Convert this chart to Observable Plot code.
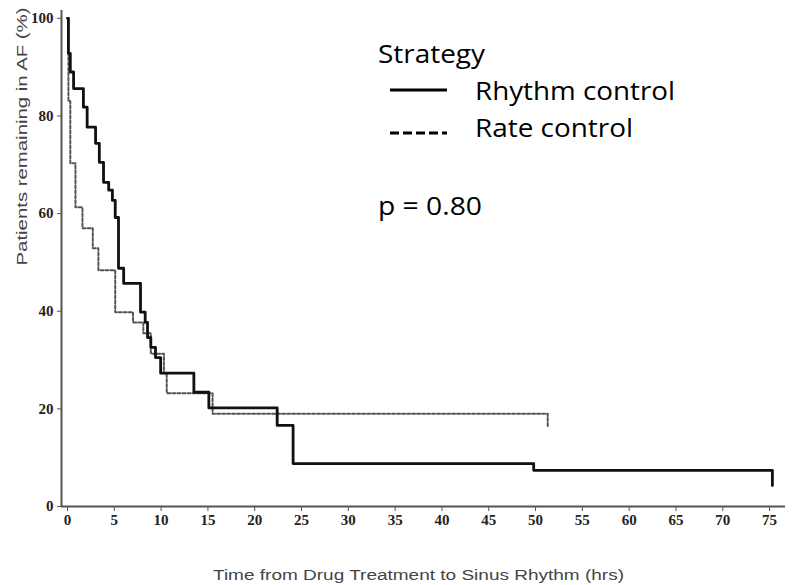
<!DOCTYPE html>
<html><head><meta charset="utf-8">
<script src="https://cdn.jsdelivr.net/npm/d3@7"></script>
<script src="https://cdn.jsdelivr.net/npm/@observablehq/plot@0.6"></script>
<style>
body{margin:0;background:#fff;}
#wrap{width:798px;height:585px;}
</style></head><body><div id="wrap"></div>
<script>
// ---- data ----
const strategies = ["Rhythm control", "Rate control"];
const rhythmTime = [0, 0.1, 0.3, 0.65, 1.7, 2.1, 3.0, 3.4, 3.85, 4.4, 4.8, 5.1, 5.45, 6.0, 7.8, 8.3, 8.55, 8.9, 9.4, 9.95, 13.5, 15.1, 22.4, 24.1, 49.8, 75.3];
const rhythmPct  = [100, 92.8, 89, 85.6, 81.8, 77.7, 74.4, 70.5, 66.4, 64.8, 62.7, 59.2, 48.8, 45.7, 39.8, 37.7, 34.6, 32.6, 30.5, 27.3, 23.4, 20.2, 16.6, 8.8, 7.4, 4.3];
const rateTime = [0, 0.1, 0.3, 0.85, 1.6, 2.7, 3.3, 5.1, 7.0, 8.1, 8.9, 10.3, 10.6, 15.5, 51.3];
const ratePct  = [100, 83, 70.3, 61.3, 57, 52.9, 48.4, 39.8, 37.7, 35.5, 31.3, 27.3, 23.2, 19.0, 16.2];
const xTicks = [0, 5, 10, 15, 20, 25, 30, 35, 40, 45, 50, 55, 60, 65, 70, 75];
const yTicks = [0, 20, 40, 60, 80, 100];
const xTitle = "Time from Drug Treatment to Sinus Rhythm (hrs)";
const yTitle = "Patients remaining in AF (%)";
const legendTitle = "Strategy";
const pText = "p = 0.80";

const rhythm = rhythmTime.map((t, i) => ({strategy: strategies[0], t, pct: rhythmPct[i]}));
const rate = rateTime.map((t, i) => ({strategy: strategies[1], t, pct: ratePct[i]}));

const xMin = -0.64, xMax = 76.7;
const tickFont = {fontFamily: "Liberation Serif", fontWeight: "bold", fontSize: 15, fill: "#222"};

const chart = Plot.plot({
  width: 798, height: 585,
  marginLeft: 61, marginRight: 13, marginTop: 10, marginBottom: 79,
  x: {domain: [xMin, xMax]},
  y: {domain: [0, 101.6]},
  style: {background: "#fff"},
  marks: [
    Plot.axisY({ticks: yTicks, tickSize: 4, tickPadding: 4, stroke: "#555", label: null, ...tickFont}),
    Plot.axisX({ticks: xTicks, tickSize: 5, tickPadding: 3, stroke: "#555", label: null, ...tickFont}),
    Plot.ruleX([xMin], {stroke: "#555", strokeWidth: 2}),
    Plot.ruleY([0], {stroke: "#555", strokeWidth: 2}),
    Plot.line(rate, {x: "t", y: "pct", curve: "step-after", stroke: "#555", strokeWidth: 2, strokeDasharray: "3,2"}),
    Plot.line(rhythm, {x: "t", y: "pct", curve: "step-after", stroke: "#111", strokeWidth: 2.8}),
    Plot.text([xTitle], {frameAnchor: "bottom", dy: 73, dx: -5, fontFamily: "Liberation Sans", fontSize: 14, fill: "#444"}),
    Plot.text([yTitle], {frameAnchor: "left", dx: -39, dy: 7, rotate: -90, fontFamily: "Liberation Sans", fontSize: 14, fill: "#444"})
  ]
});
document.getElementById("wrap").appendChild(chart);

const svg = d3.select(chart);
// tick label styling: bold serif like the scanned figure
const tickStrings = new Set([...xTicks, ...yTicks].map(String));
svg.selectAll("text").filter(function(){ return tickStrings.has(this.textContent.trim()); })
  .style("font-family", "'Liberation Serif', serif").style("font-weight", "bold").style("font-size", "15px").style("fill", "#222");

// legend and p-value as real SVG text
const g = svg.append("g").attr("font-family", "Open Sans").attr("font-size", 25).attr("fill", "#000").attr("text-anchor", "start");
g.append("text").attr("x", 378).attr("y", 63).attr("textLength", 107).attr("lengthAdjust", "spacingAndGlyphs").text(legendTitle);
g.append("text").attr("x", 475).attr("y", 100).attr("textLength", 200).attr("lengthAdjust", "spacingAndGlyphs").text(strategies[0]);
g.append("text").attr("x", 475).attr("y", 137).attr("textLength", 158).attr("lengthAdjust", "spacingAndGlyphs").text(strategies[1]);
g.append("text").attr("x", 378).attr("y", 215).attr("textLength", 104).attr("lengthAdjust", "spacingAndGlyphs").text(pText);
g.append("line").attr("x1", 390).attr("x2", 447).attr("y1", 90).attr("y2", 90).attr("stroke", "#000").attr("stroke-width", 3);
g.append("line").attr("x1", 390).attr("x2", 447).attr("y1", 133).attr("y2", 133).attr("stroke", "#000").attr("stroke-width", 3).attr("stroke-dasharray", "9,4");

// fit axis titles to the reference extents
svg.selectAll("text").filter(function(){ return this.textContent === xTitle; }).attr("textLength", 411).attr("lengthAdjust", "spacingAndGlyphs");
svg.selectAll("text").filter(function(){ return this.textContent === yTitle; }).attr("textLength", 258).attr("lengthAdjust", "spacingAndGlyphs");
</script>
</body></html>
